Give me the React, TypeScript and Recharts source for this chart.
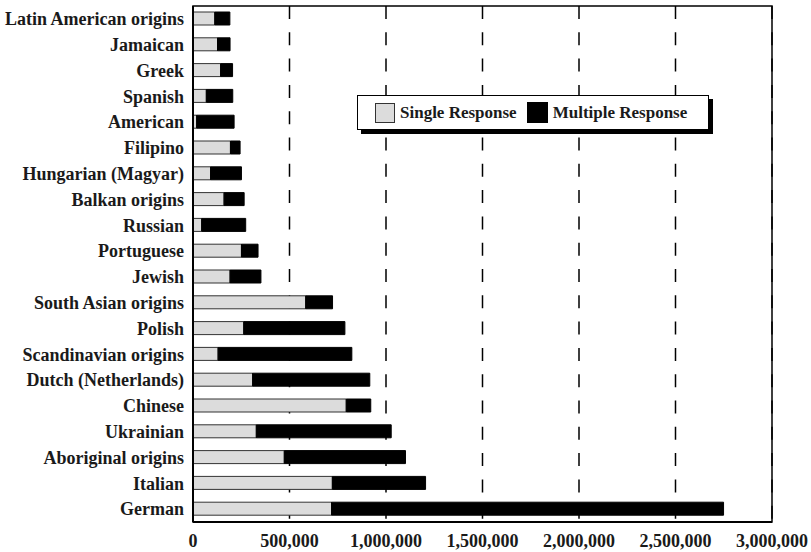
import React from 'react';
import {
  BarChart,
  Bar,
  XAxis,
  YAxis,
  CartesianGrid,
  ReferenceArea,
} from 'recharts';

const origins = [
  'Latin American origins',
  'Jamaican',
  'Greek',
  'Spanish',
  'American',
  'Filipino',
  'Hungarian (Magyar)',
  'Balkan origins',
  'Russian',
  'Portuguese',
  'Jewish',
  'South Asian origins',
  'Polish',
  'Scandinavian origins',
  'Dutch (Netherlands)',
  'Chinese',
  'Ukrainian',
  'Aboriginal origins',
  'Italian',
  'German',
];

const singleResponse = [
  113000, 127000, 143000, 69000, 19000, 194000, 91000, 161000, 45000, 251000,
  192000, 584000, 263000, 130000, 309000, 794000, 328000, 473000, 722000, 718000,
];

const multipleResponse = [
  78000, 65000, 62000, 137000, 194000, 50000, 160000, 104000, 228000, 86000,
  160000, 139000, 524000, 693000, 607000, 127000, 699000, 628000, 483000, 2031000,
];

const xTicks = [0, 500000, 1000000, 1500000, 2000000, 2500000, 3000000];

const data = origins.map((name, i) => ({
  name,
  single: singleResponse[i],
  multiple: multipleResponse[i],
}));

const FONT = '"Liberation Serif", "Times New Roman", serif';
const tickStyle = { fontFamily: FONT, fontWeight: 'bold', fontSize: 18, fill: '#1a1a1a' };

// legend box with a hard drop shadow, placed over the upper plot area
const LegendBox = () => (
  <div
    style={{
      position: 'absolute',
      left: 357,
      top: 95,
      width: 352,
      height: 35,
      boxSizing: 'border-box',
      border: '1.5px solid #000',
      background: '#fff',
      boxShadow: '4px 4px 0 #000',
      display: 'flex',
      alignItems: 'center',
      fontFamily: FONT,
      fontWeight: 'bold',
      fontSize: 17,
      color: '#1a1a1a',
      whiteSpace: 'nowrap',
    }}
  >
    <span
      style={{
        width: 18,
        height: 18,
        marginLeft: 17,
        background: '#dcdcdc',
        border: '1px solid #333',
      }}
    />
    <span style={{ marginLeft: 5 }}>Single Response</span>
    <span
      style={{
        width: 19,
        height: 19,
        marginLeft: 10,
        background: '#000',
        border: '1px solid #000',
      }}
    />
    <span style={{ marginLeft: 5 }}>Multiple Response</span>
  </div>
);

const App: React.FC = () => {
  return (
    <div style={{ position: 'absolute', left: 0, top: 0, width: 811, height: 552 }}>
      <BarChart
        width={811}
        height={552}
        data={data}
        layout="vertical"
        margin={{ top: 6, right: 39, bottom: 0, left: 0 }}
        barSize={13}
      >
        <CartesianGrid
          horizontal={false}
          stroke="#000"
          strokeWidth={1.5}
          strokeDasharray="13 13.3"
        />
        <XAxis
          type="number"
          domain={[0, 3000000]}
          ticks={xTicks}
          height={30}
          tickLine={false}
          axisLine={{ stroke: '#000', strokeWidth: 2 }}
          tickMargin={6}
          tickFormatter={(v: number) => v.toLocaleString('en-US')}
          tick={tickStyle}
        />
        <YAxis
          type="category"
          dataKey="name"
          width={193}
          tickLine={false}
          interval={0}
          tickMargin={3}
          axisLine={{ stroke: '#000', strokeWidth: 2 }}
          tick={tickStyle}
        />
        <ReferenceArea
          x1={0}
          x2={3000000}
          fill="none"
          stroke="#000"
          strokeWidth={1.5}
          ifOverflow="visible"
        />
        <Bar
          dataKey="single"
          stackId="a"
          fill="#dcdcdc"
          stroke="#333"
          strokeWidth={1}
          isAnimationActive={false}
        />
        <Bar
          dataKey="multiple"
          stackId="a"
          fill="#000"
          stroke="#000"
          strokeWidth={1}
          isAnimationActive={false}
        />
      </BarChart>
      <LegendBox />
    </div>
  );
};

export default App;
